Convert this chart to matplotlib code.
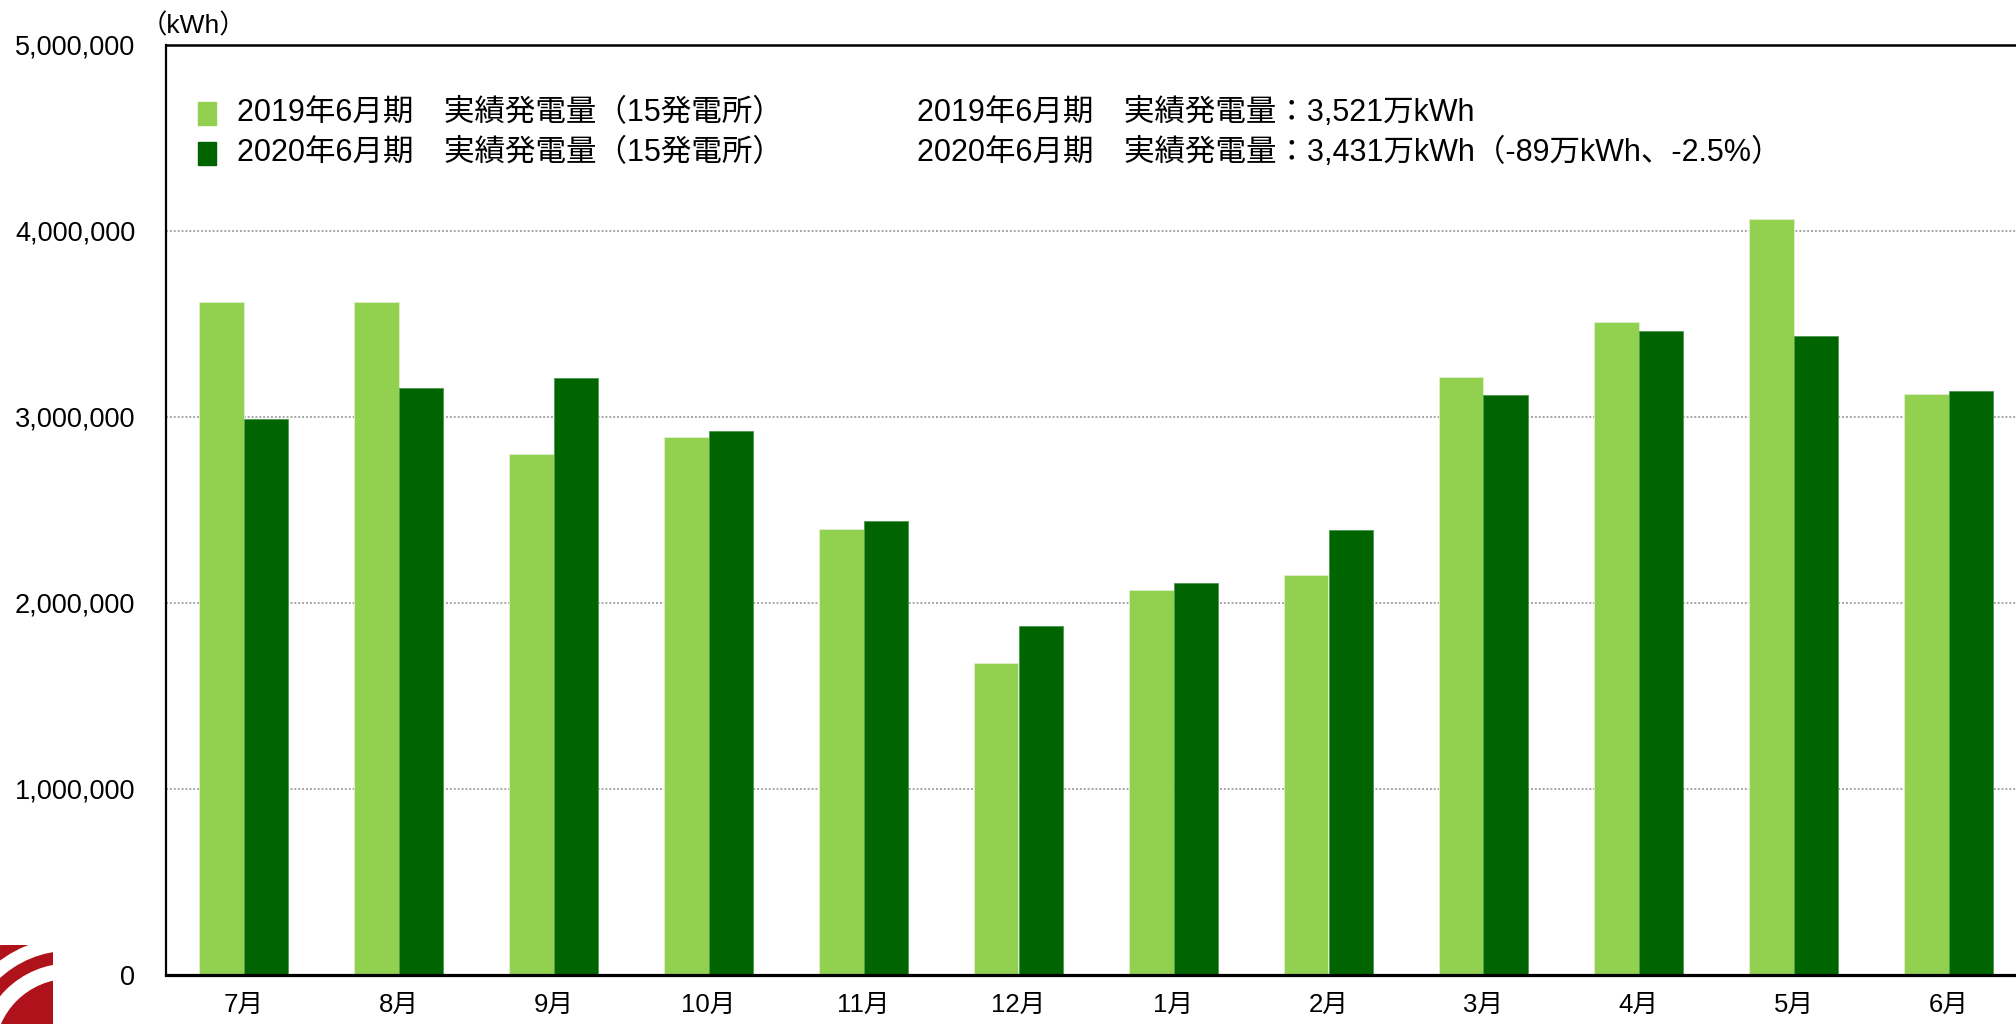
import matplotlib
matplotlib.use("Agg")
import matplotlib.pyplot as plt
from matplotlib.patches import Rectangle, Wedge
import numpy as np

plt.rcParams['font.family'] = ['Liberation Sans', 'Noto Sans CJK JP', 'DejaVu Sans']

months = ['7月', '8月', '9月', '10月', '11月', '12月', '1月', '2月', '3月', '4月', '5月', '6月']
gen_2019 = [3617000, 3617000, 2801000, 2891000, 2400000, 1680000,
            2068000, 2151000, 3216000, 3513000, 4066000, 3126000]
gen_2020 = [2988000, 3154000, 3209000, 2925000, 2441000, 1874000,
            2109000, 2393000, 3119000, 3465000, 3437000, 3140000]
yticks = [0, 1000000, 2000000, 3000000, 4000000, 5000000]
label_2019 = '2019年6月期\u3000実績発電量（15発電所）'
label_2020 = '2020年6月期\u3000実績発電量（15発電所）'
summary_2019 = '2019年6月期\u3000実績発電量：3,521万kWh'
summary_2020 = '2020年6月期\u3000実績発電量：3,431万kWh（-89万kWh、-2.5%）'
unit_label = '（kWh）'

light = '#92D050'
dark = '#006400'

W, H = 2016, 1024
fig = plt.figure(figsize=(W / 100, H / 100), dpi=100)

def fx(x):
    return x / W

def fy(y):
    return 1 - y / H

ax_left, ax_right, ax_top, ax_bottom = 166, 2026, 45, 975
ax = fig.add_axes([fx(ax_left), fy(ax_bottom), (ax_right - ax_left) / W, (ax_bottom - ax_top) / H])

x = np.arange(len(months))
bw = 0.284
ax.bar(x - bw / 2, gen_2019, width=bw, color=light, edgecolor='#dff0cf', linewidth=0.6, zorder=3)
ax.bar(x + bw / 2, gen_2020, width=bw, color=dark, edgecolor='#4c9a4c', linewidth=0.6, zorder=3)

ax.set_xlim(-0.5, len(months) - 0.5)
ax.set_ylim(0, 5000000)
ax.set_yticks(yticks)
ax.set_yticklabels([f'{v:,}' for v in yticks])
ax.set_xticks(x)
ax.set_xticklabels(months)
ax.tick_params(axis='y', length=0, pad=22, labelsize=19.5)
ax.tick_params(axis='x', length=0, pad=13, labelsize=18.5)

for v in yticks[1:-1]:
    ax.axhline(v, color='#a6a6a6', linestyle=(0, (1, 1)), linewidth=1.4, zorder=1)

ax.spines['right'].set_visible(False)
ax.spines['left'].set_linewidth(1.6)
ax.spines['bottom'].set_linewidth(2.3)
ax.spines['top'].set_linewidth(1.8)
for s in ['left', 'bottom', 'top']:
    ax.spines[s].set_color('black')
ax.spines['bottom'].set_zorder(5)

# unit label
fig.text(fx(141), fy(26), unit_label, fontsize=19, ha='left', va='center')

# legend (manual)
rows_y = [113, 153]
for yy, col, lab, summ in [(rows_y[0], light, label_2019, summary_2019),
                           (rows_y[1], dark, label_2020, summary_2020)]:
    fig.patches.append(Rectangle((fx(198), fy(yy + 12)), 18 / W, 23 / H,
                                 transform=fig.transFigure, color=col, figure=fig))
    fig.text(fx(237), fy(yy), lab, fontsize=22, ha='left', va='center')
    fig.text(fx(917), fy(yy), summ, fontsize=22, ha='left', va='center')

# logo decoration bottom-left
lax = fig.add_axes([0, 0, 53 / W, 79 / H])
lax.set_xlim(0, 53)
lax.set_ylim(0, 79)
lax.axis('off')
lax.add_patch(Rectangle((0, 0), 53, 79, color='#B0121B'))
cx, cy = 70, -30
for r_in, r_out in [(76, 90), (104, 116), (130, 142)]:
    lax.add_patch(Wedge((cx, cy), r_out, 90, 180, width=r_out - r_in, color='white'))

fig.savefig('out.png', dpi=100, facecolor='white')
